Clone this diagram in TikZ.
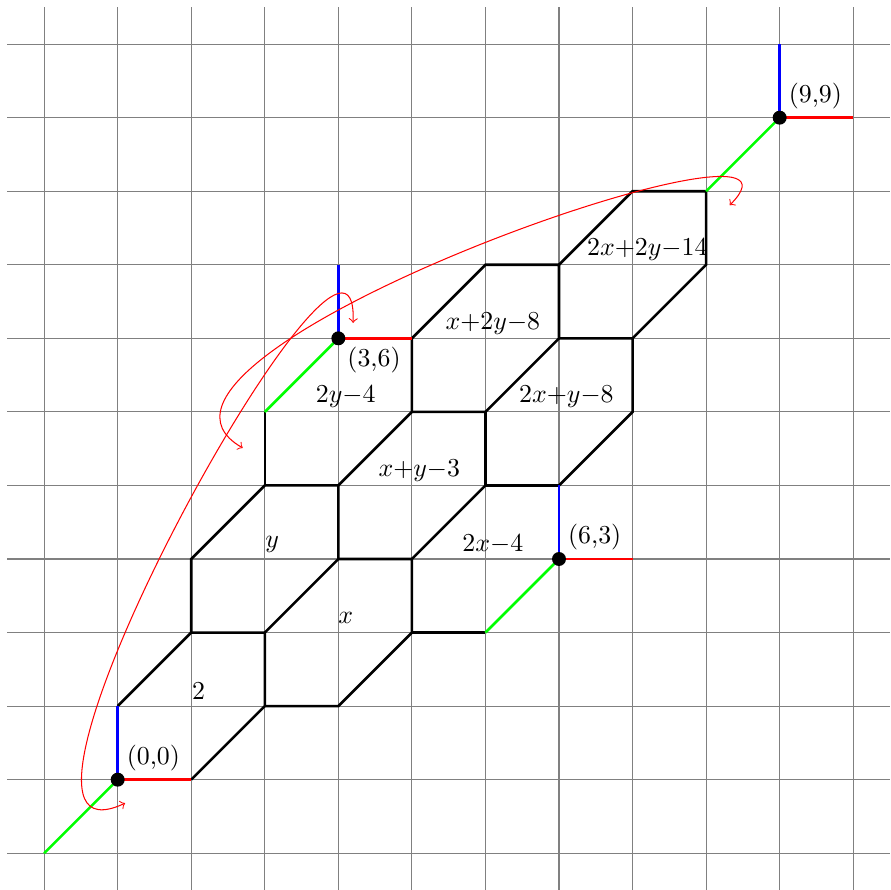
\documentclass[tikz,border=0pt]{standalone}
\begin{document}
\begin{tikzpicture}[
  gridline/.style={gray, line width=0.4pt},
  hexedge/.style={black, line width=1pt},
  redarm/.style={red, line width=1pt},
  bluearm/.style={blue, line width=1pt},
  greenarm/.style={green, line width=1pt},
  dotmark/.style={circle, fill=black, inner sep=0pt, minimum size=5.4pt},
  hexlab/.style={inner sep=0pt},
  swirl/.style={red, line width=0.4pt, <->},
]
\useasboundingbox (-1.6,-1.5) rectangle (10.5,10.6);
\draw[gridline] (-1.5,-1.5) grid (10.5,10.5);

% marked points
\coordinate (O) at (0,0);
\coordinate (P) at (3,6);
\coordinate (Q) at (6,3);
\coordinate (R) at (9,9);

% black hexagon edges
\draw[hexedge] (1,0) -- (2,1) -- (2,2) -- (1,2) -- (0,1);
\draw[hexedge] (2,2) -- (3,3) -- (3,4) -- (2,4) -- (1,3) -- (1,2);
\draw[hexedge] (2,1) -- (3,1) -- (4,2) -- (4,3) -- (3,3);
\draw[hexedge] (2,5) -- (2,4);
\draw[hexedge] (3,4) -- (4,5) -- (4,6);
\draw[hexedge] (4,3) -- (5,4) -- (5,5) -- (4,5);
\draw[hexedge] (4,2) -- (5,2);
\draw[hexedge] (6,4) -- (5,4);
\draw[hexedge] (5,5) -- (6,6) -- (6,7) -- (5,7) -- (4,6);
\draw[hexedge] (6,4) -- (7,5) -- (7,6) -- (6,6);
\draw[hexedge] (7,6) -- (8,7) -- (8,8) -- (7,8) -- (6,7);

% coloured arms
\foreach \p in {O,P,Q,R} {
  \draw[redarm] (\p) -- ++(1,0);
  \draw[bluearm] (\p) -- ++(0,1);
  \draw[greenarm] (\p) -- ++(-1,-1);
}

% dots and point labels
\node[dotmark] (dO) at (O) {};
\node[dotmark] (dP) at (P) {};
\node[dotmark] (dQ) at (Q) {};
\node[dotmark] (dR) at (R) {};
\node[above right] (lO) at (O) {(0,0)};
\node[below right] (lP) at (P) {(3,6)};
\node[above right] (lQ) at (Q) {(6,3)};
\node[above right] (lR) at (R) {(9,9)};

% hexagon labels
\node[hexlab] (h1) at (1.1,1.2) {$2$};
\node[hexlab] (h2) at (2.1,3.2) {$y$};
\node[hexlab] (h3) at (3.1,2.2) {$x$};
\node[hexlab] (h4) at (3.1,5.2) {$2y{-}4$};
\node[hexlab] (h5) at (4.1,4.2) {$x{+}y{-}3$};
\node[hexlab] (h6) at (5.1,3.2) {$2x{-}4$};
\node[hexlab] (h7) at (5.1,6.2) {$x{+}2y{-}8$};
\node[hexlab] (h8) at (6.1,5.2) {$2x{+}y{-}8$};
\node[hexlab] (h9) at (7.2,7.2) {$2x{+}2y{-}14$};

% red curved arrows
\coordinate (c1s) at (0.10,-0.32);
\coordinate (c1e) at (3.20,6.21);
\draw[swirl] (c1s) .. controls (-2.26,-1.42) and (3.3,8.7) .. (c1e);
\coordinate (c2s) at (1.70,4.51);
\coordinate (c2e) at (8.32,7.81);
\draw[swirl] (c2s) .. controls (-0.47,5.76) and (9.88,9.37) .. (c2e);
\end{tikzpicture}
\end{document}
